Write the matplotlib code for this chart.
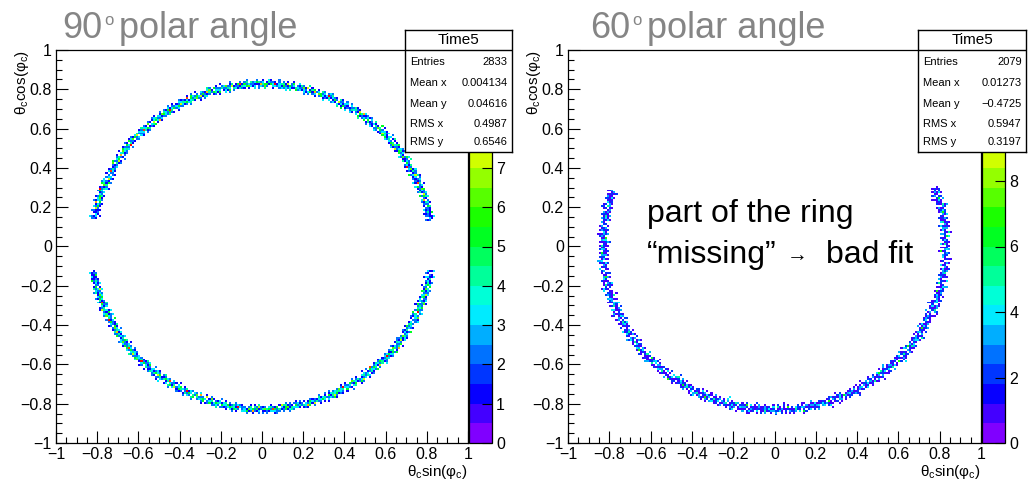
import colorsys
import numpy as np
import matplotlib
matplotlib.use('Agg')
import matplotlib.pyplot as plt
from matplotlib.colors import ListedColormap, BoundaryNorm
from matplotlib.ticker import MultipleLocator, FuncFormatter

plt.rcParams['font.family'] = ['Liberation Sans', 'DejaVu Sans']
plt.rcParams['mathtext.fontset'] = 'custom'
plt.rcParams['mathtext.rm'] = 'Liberation Sans'
plt.rcParams['mathtext.it'] = 'Liberation Sans:italic'

# histogram binning
n_bins = 200
hist_range = (-1.0, 1.0)

# 90 deg polar angle: Cherenkov angle, phi arcs seen (deg from +y), bin contents along the ring
theta_c_90 = 0.825
phi_arcs_90 = [(-80.0, 81.0), (98.5, 261.0)]
core_counts_90 = [3, 5, 2, 4, 6, 3, 4, 2, 7, 3, 5, 4, 2, 8, 3, 4, 6, 2, 5, 4, 3,
                  2, 5, 3, 10, 4, 2, 3, 6, 4, 5, 2, 3, 7, 4, 3, 2, 5, 3, 9, 4]
side_counts_90 = [1, 2, 3, 1, 0, 2, 3, 1, 2, 4, 1, 2, 1, 0, 5, 2, 1, 3, 2]
tail_counts_90 = [1, 2, 1, 1, 3, 1, 2, 1]
radial_jitter_90 = [0, 1, 0, -1, 0, 0, 1, -1, 0, 1, 0, 0, -1, 1, 0, -1, 0, 1, 0, -1, 0, 0, 1]
zmax_90 = 10
zticks_90 = list(range(0, 11))
stats_90 = [('Entries', '2833'), ('Mean x', '0.004134'), ('Mean y', '0.04616'),
            ('RMS x', '0.4987'), ('RMS y', '0.6546')]

# 60 deg polar angle
theta_c_60 = 0.83
phi_arcs_60 = [(69.0, 290.0)]
core_counts_60 = [2, 3, 1, 4, 2, 5, 3, 2, 6, 1, 3, 4, 2, 1, 5, 2, 3, 1, 4, 2, 7,
                  3, 1, 2, 4, 3, 1, 5, 2, 3, 4]
side_counts_60 = [1, 2, 1, 3, 0, 1, 2, 1, 2, 1, 4, 1, 0, 2, 1, 3, 1]
tail_counts_60 = [1, 1, 2, 1, 1, 3]
radial_jitter_60 = [0, 1, -1, 0, 1, 0, -1, 1, 0, -2, 1, 0, 0, -1, 1, 2, -1, 0, 1, -1, 0]
zmax_60 = 12
zticks_60 = list(range(0, 13, 2))
stats_60 = [('Entries', '2079'), ('Mean x', '0.01273'), ('Mean y', '\u22120.4725'),
            ('RMS x', '0.5947'), ('RMS y', '0.3197')]

W, H = 1032, 484


def ring_hist(theta_c, phi_arcs, core, side, tail, jitter, step_deg=0.45):
    """
    Fills a 2D histogram with the ring hits, x = theta_c sin(phi), y = theta_c cos(phi)
    :return: bin contents, shape (n_bins, n_bins), indexed [ix, iy]
    """
    bw = (hist_range[1] - hist_range[0]) / n_bins
    hist = np.zeros((n_bins, n_bins))
    k = 0
    for lo, hi in phi_arcs:
        phis = np.arange(lo, hi + 1e-9, step_deg)
        for i, phi in enumerate(phis):
            near_end = min(i, len(phis) - 1 - i) < len(tail)
            c = tail[k % len(tail)] if near_end else core[k % len(core)]
            r = theta_c + jitter[k % len(jitter)] * bw
            layers = [(-bw, side[k % len(side)]), (bw, side[(k + 5) % len(side)]), (0.0, c)]
            for dr, val in layers:
                if val == 0:
                    continue
                x = (r + dr) * np.sin(np.radians(phi))
                y = (r + dr) * np.cos(np.radians(phi))
                ix = int((x - hist_range[0]) / bw)
                iy = int((y - hist_range[0]) / bw)
                if 0 <= ix < n_bins and 0 <= iy < n_bins:
                    hist[ix, iy] = val
            k += 1
    return hist


def root_palette(n=20):
    # hue sweep violet -> blue -> cyan -> green -> yellow -> red
    return ListedColormap([colorsys.hsv_to_rgb(h, 1, 1) for h in np.linspace(0.75, 0, n)])


def tick_fmt(v, pos):
    v = round(v, 3)
    if abs(v) < 1e-9:
        return '0'
    return ('%g' % v).replace('-', '\u2212')


def px_rect(x0, y0, x1, y1):
    return [x0 / W, (H - y1) / H, (x1 - x0) / W, (y1 - y0) / H]


def draw_panel(fig, ax_px, cb_px, hist, zmax, zticks, hidden_labels):
    ax = fig.add_axes(px_rect(*ax_px))
    edges = np.linspace(hist_range[0], hist_range[1], n_bins + 1)
    cmap = root_palette(20)
    norm = BoundaryNorm(np.linspace(0, zmax, 21), cmap.N, clip=True)
    mesh = ax.pcolormesh(edges, edges, np.ma.masked_equal(hist.T, 0), cmap=cmap, norm=norm,
                         antialiased=False, linewidth=0)
    ax.set_xlim(-1, 1)
    ax.set_ylim(-1, 1)
    for axis in (ax.xaxis, ax.yaxis):
        axis.set_major_locator(MultipleLocator(0.2))
        axis.set_minor_locator(MultipleLocator(0.05))
        axis.set_major_formatter(FuncFormatter(tick_fmt))
    ax.tick_params(which='both', direction='in', top=False, right=False, labelsize=11.5, pad=3, width=0.8)
    ax.tick_params(which='major', length=8.5)
    ax.tick_params(which='minor', length=4.3)
    for s in ax.spines.values():
        s.set_linewidth(0.9)
    ax.text(1.0, -0.074, r'θ$_\mathregular{c}$sin(φ$_\mathregular{c}$)', transform=ax.transAxes,
            ha='right', va='center', fontsize=11)
    ax.text(-0.083, 1.0, r'θ$_\mathregular{c}$cos(φ$_\mathregular{c}$)', transform=ax.transAxes,
            ha='center', va='top', rotation=90, fontsize=11)

    cax = fig.add_axes(px_rect(*cb_px))
    cb = fig.colorbar(mesh, cax=cax, ticks=zticks)
    # labels sitting fully under the stats box are left out
    cb.set_ticklabels(['' if t in hidden_labels else str(t) for t in zticks])
    cb.outline.set_linewidth(0.9)
    cax.minorticks_off()
    cax.tick_params(direction='in', length=7, width=0.8, labelsize=11.5, pad=3)
    return ax


def draw_stats(fig, box_px, title, rows):
    sax = fig.add_axes(px_rect(*box_px), zorder=10)
    sax.set_xlim(0, 1)
    sax.set_ylim(0, 1)
    sax.set_xticks([])
    sax.set_yticks([])
    for s in sax.spines.values():
        s.set_linewidth(1.0)
    top, bottom = box_px[1], box_px[3]
    hgt = bottom - top
    sax.axhline((bottom - 50) / hgt, color='black', lw=1.0)
    sax.text(0.5, (bottom - 40) / hgt, title, ha='center', va='center', fontsize=11)
    row_y = [62, 83, 104, 124, 142]
    for (name, val), y in zip(rows, row_y):
        sax.text(0.05, (bottom - y) / hgt, name, ha='left', va='center', fontsize=8)
        sax.text(0.96, (bottom - y) / hgt, val, ha='right', va='center', fontsize=8)


def draw_title(fig, x0, number):
    gray = '#858585'
    fig.text(x0 / W, (H - 38) / H, number, fontsize=26, color=gray, va='baseline')
    fig.text((x0 + 42) / W, (H - 25) / H, 'o', fontsize=12, color=gray, va='baseline')
    fig.text((x0 + 57) / W, (H - 38) / H, 'polar angle', fontsize=26, color=gray, va='baseline')


hist_90 = ring_hist(theta_c_90, phi_arcs_90, core_counts_90, side_counts_90,
                    tail_counts_90, radial_jitter_90)
hist_60 = ring_hist(theta_c_60, phi_arcs_60, core_counts_60, side_counts_60,
                    tail_counts_60, radial_jitter_60)

fig = plt.figure(figsize=(W / 100, H / 100), dpi=100)

draw_panel(fig, (56, 50, 468, 443), (469, 50, 492, 443), hist_90, zmax_90, zticks_90, [8, 9])
draw_panel(fig, (568, 50, 981, 443), (982, 50, 1005, 443), hist_60, zmax_60, zticks_60, [10])

draw_stats(fig, (405, 30, 512, 152), 'Time5', stats_90)
draw_stats(fig, (918, 30, 1026, 152), 'Time5', stats_60)

draw_title(fig, 62, '90')
draw_title(fig, 590, '60')

fig.text(647 / W, (H - 222) / H, 'part of the ring', fontsize=23, va='baseline')
fig.text(647 / W, (H - 263) / H, '\u201cmissing\u201d', fontsize=23, va='baseline')
fig.text(787 / W, (H - 256) / H, '\u2192', fontsize=15, va='center')
fig.text(826 / W, (H - 263) / H, 'bad fit', fontsize=23, va='baseline')

fig.savefig('out.png', dpi=100)
